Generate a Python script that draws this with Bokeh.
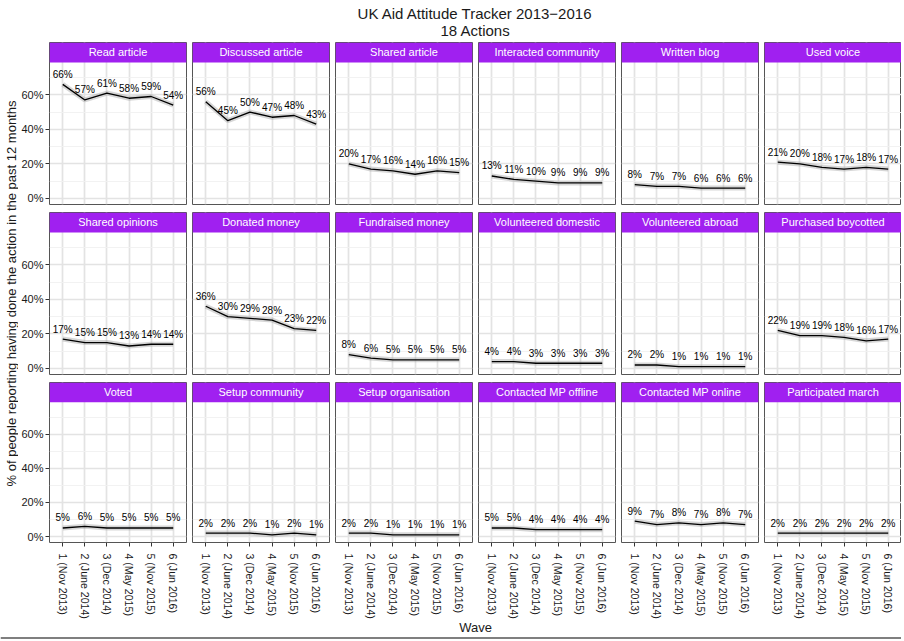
import math
from bokeh.plotting import figure
from bokeh.models import (Range1d, FixedTicker, LinearAxis, Grid, BoxAnnotation,
                          Label, Span, PrintfTickFormatter)
from bokeh.layouts import column, row
from bokeh.embed import file_html
from bokeh.resources import INLINE
from bokeh.core.properties import value

# ---------------- data ----------------
title_line1 = "UK Aid Attitude Tracker 2013\u22122016"
title_line2 = "18 Actions"
y_title = "% of people reporting having done the action in the past 12 months"
x_title = "Wave"

waves = [1, 2, 3, 4, 5, 6]
wave_labels = ["1 (Nov 2013)", "2 (June 2014)", "3 (Dec 2014)",
               "4 (May 2015)", "5 (Nov 2015)", "6 (Jun 2016)"]
y_ticks = [0, 20, 40, 60]
y_minor = [10, 30, 50, 70]

actions = ["Read article", "Discussed article", "Shared article",
           "Interacted community", "Written blog", "Used voice",
           "Shared opinions", "Donated money", "Fundraised money",
           "Volunteered domestic", "Volunteered abroad", "Purchased boycotted",
           "Voted", "Setup community", "Setup organisation",
           "Contacted MP offline", "Contacted MP online", "Participated march"]

read_article = [66, 57, 61, 58, 59, 54]
discussed_article = [56, 45, 50, 47, 48, 43]
shared_article = [20, 17, 16, 14, 16, 15]
interacted_community = [13, 11, 10, 9, 9, 9]
written_blog = [8, 7, 7, 6, 6, 6]
used_voice = [21, 20, 18, 17, 18, 17]
shared_opinions = [17, 15, 15, 13, 14, 14]
donated_money = [36, 30, 29, 28, 23, 22]
fundraised_money = [8, 6, 5, 5, 5, 5]
volunteered_domestic = [4, 4, 3, 3, 3, 3]
volunteered_abroad = [2, 2, 1, 1, 1, 1]
purchased_boycotted = [22, 19, 19, 18, 16, 17]
voted = [5, 6, 5, 5, 5, 5]
setup_community = [2, 2, 2, 1, 2, 1]
setup_organisation = [2, 2, 1, 1, 1, 1]
contacted_mp_offline = [5, 5, 4, 4, 4, 4]
contacted_mp_online = [9, 7, 8, 7, 8, 7]
participated_march = [2, 2, 2, 2, 2, 2]

series = [read_article, discussed_article, shared_article, interacted_community,
          written_blog, used_voice, shared_opinions, donated_money,
          fundraised_money, volunteered_domestic, volunteered_abroad,
          purchased_boycotted, voted, setup_community, setup_organisation,
          contacted_mp_offline, contacted_mp_online, participated_march]

# ---------------- style ----------------
FONT = "Liberation Sans"
STRIP = "#A020F0"
BORDER = "#555555"
Y_LO, Y_PLOT_TOP, Y_HI = -3.5, 78.68, 90.25
X_LO, X_HI = 0.4, 6.6
FRAME_W, FRAME_H = 137, 162
YLAB_W = 18
AXIS_W = 31
BOTTOM_B = 77
TOTAL_W = YLAB_W + AXIS_W + 6 * FRAME_W + 5 * 6
TITLE_H = 42
WAVE_H = 18
CENTER_X = 475


def make_panel(idx):
    r, c = divmod(idx, 6)
    vals = series[idx]
    lb = AXIS_W if c == 0 else 0
    rb = 6 if c < 5 else 0
    bb = BOTTOM_B if r == 2 else 8
    p = figure(width=lb + FRAME_W + rb, height=FRAME_H + bb,
               x_range=Range1d(X_LO, X_HI), y_range=Range1d(Y_LO, Y_HI),
               x_axis_location=None, y_axis_location=None,
               toolbar_location=None, tools="", output_backend="svg",
               min_border_left=lb, min_border_right=rb,
               min_border_top=0, min_border_bottom=bb)
    p.center = []
    p.outline_line_color = BORDER
    p.outline_line_width = 1
    p.background_fill_color = "white"
    p.border_fill_color = "white"

    xg = Grid(dimension=0, ticker=FixedTicker(ticks=waves),
              grid_line_color="#e3e3e3", grid_line_width=1.7)
    yg = Grid(dimension=1, ticker=FixedTicker(ticks=y_ticks, minor_ticks=y_minor),
              grid_line_color="#e3e3e3", grid_line_width=1.7,
              minor_grid_line_color="#f0f0f0", minor_grid_line_width=0.9)
    p.add_layout(xg, "center")
    p.add_layout(yg, "center")

    # line with soft grey shadow
    p.line(waves, vals, line_width=5, line_color="#9a9a9a", line_alpha=0.4)
    p.line(waves, vals, line_width=1.3, line_color="black")
    p.text(waves, vals, text=[f"{v}%" for v in vals], text_align="center",
           text_baseline="middle", y_offset=-10, text_font=value(FONT),
           text_font_size="10px", text_color="black")

    # strip
    p.add_layout(BoxAnnotation(bottom=Y_PLOT_TOP, fill_color=STRIP, fill_alpha=1.0,
                               line_color=None))
    p.add_layout(Label(x=(X_LO + X_HI) / 2, y=(Y_PLOT_TOP + Y_HI) / 2,
                       text=actions[idx], text_align="center",
                       text_baseline="middle", text_color="white",
                       text_font=FONT, text_font_size="11px"))

    if c == 0:
        ya = LinearAxis(ticker=FixedTicker(ticks=y_ticks),
                        formatter=PrintfTickFormatter(format="%d%%"))
        ya.axis_line_color = None
        ya.major_tick_in = 0
        ya.major_tick_out = 4
        ya.major_tick_line_color = "#333333"
        ya.minor_tick_line_color = None
        ya.major_label_standoff = 2
        ya.major_label_text_font = FONT
        ya.major_label_text_font_size = "11px"
        ya.major_label_text_color = "#1a1a1a"
        p.add_layout(ya, "left")
    if r == 2:
        xa = LinearAxis(ticker=FixedTicker(ticks=waves))
        xa.major_label_overrides = {w: lbl for w, lbl in zip(waves, wave_labels)}
        xa.major_label_orientation = -math.pi / 2
        xa.axis_line_color = None
        xa.major_tick_in = 0
        xa.major_tick_out = 4
        xa.major_tick_line_color = "#333333"
        xa.minor_tick_line_color = None
        xa.major_label_standoff = 7
        xa.major_label_text_font = FONT
        xa.major_label_text_font_size = "10.6px"
        xa.major_label_text_color = "#1a1a1a"
        p.add_layout(xa, "below")
    return p


def blank(width, height):
    f = figure(width=width, height=height, x_range=Range1d(0, width),
               y_range=Range1d(0, height), x_axis_location=None,
               y_axis_location=None, toolbar_location=None, tools="",
               output_backend="svg", min_border=0)
    f.center = []
    f.outline_line_color = None
    f.background_fill_color = "white"
    f.border_fill_color = "white"
    return f


# title
tfig = blank(TOTAL_W, TITLE_H)
tfig.text([CENTER_X], [TITLE_H - 12.5], text=[title_line1], text_align="center",
          text_baseline="middle", text_font=value(FONT), text_font_size="15px",
          text_color="#1a1a1a")
tfig.text([CENTER_X], [TITLE_H - 29.5], text=[title_line2], text_align="center",
          text_baseline="middle", text_font=value(FONT), text_font_size="15px",
          text_color="#1a1a1a")

# y title
grid_h = 170 + 170 + FRAME_H + BOTTOM_B
yfig = blank(YLAB_W, grid_h)
yfig.text([11], [grid_h - 251], text=[y_title], angle=math.pi / 2,
          text_align="center", text_baseline="middle", text_font=value(FONT),
          text_font_size="13px", text_color="#1a1a1a")

panels = [make_panel(i) for i in range(18)]
rows = [row(*panels[r * 6:(r + 1) * 6], spacing=0) for r in range(3)]
grid = column(*rows, spacing=0)

# x title
wfig = blank(TOTAL_W, WAVE_H)
wfig.text([CENTER_X], [WAVE_H - 5.5], text=[x_title], text_align="center",
          text_baseline="middle", text_font=value(FONT), text_font_size="13px",
          text_color="#1a1a1a")
wfig.add_layout(Span(location=1.5, dimension="width", line_color="black",
                     line_width=1.2))

layout = column(tfig, row(yfig, grid, spacing=0), wfig, spacing=0)

open("out.html", "w").write(file_html(layout, INLINE))
